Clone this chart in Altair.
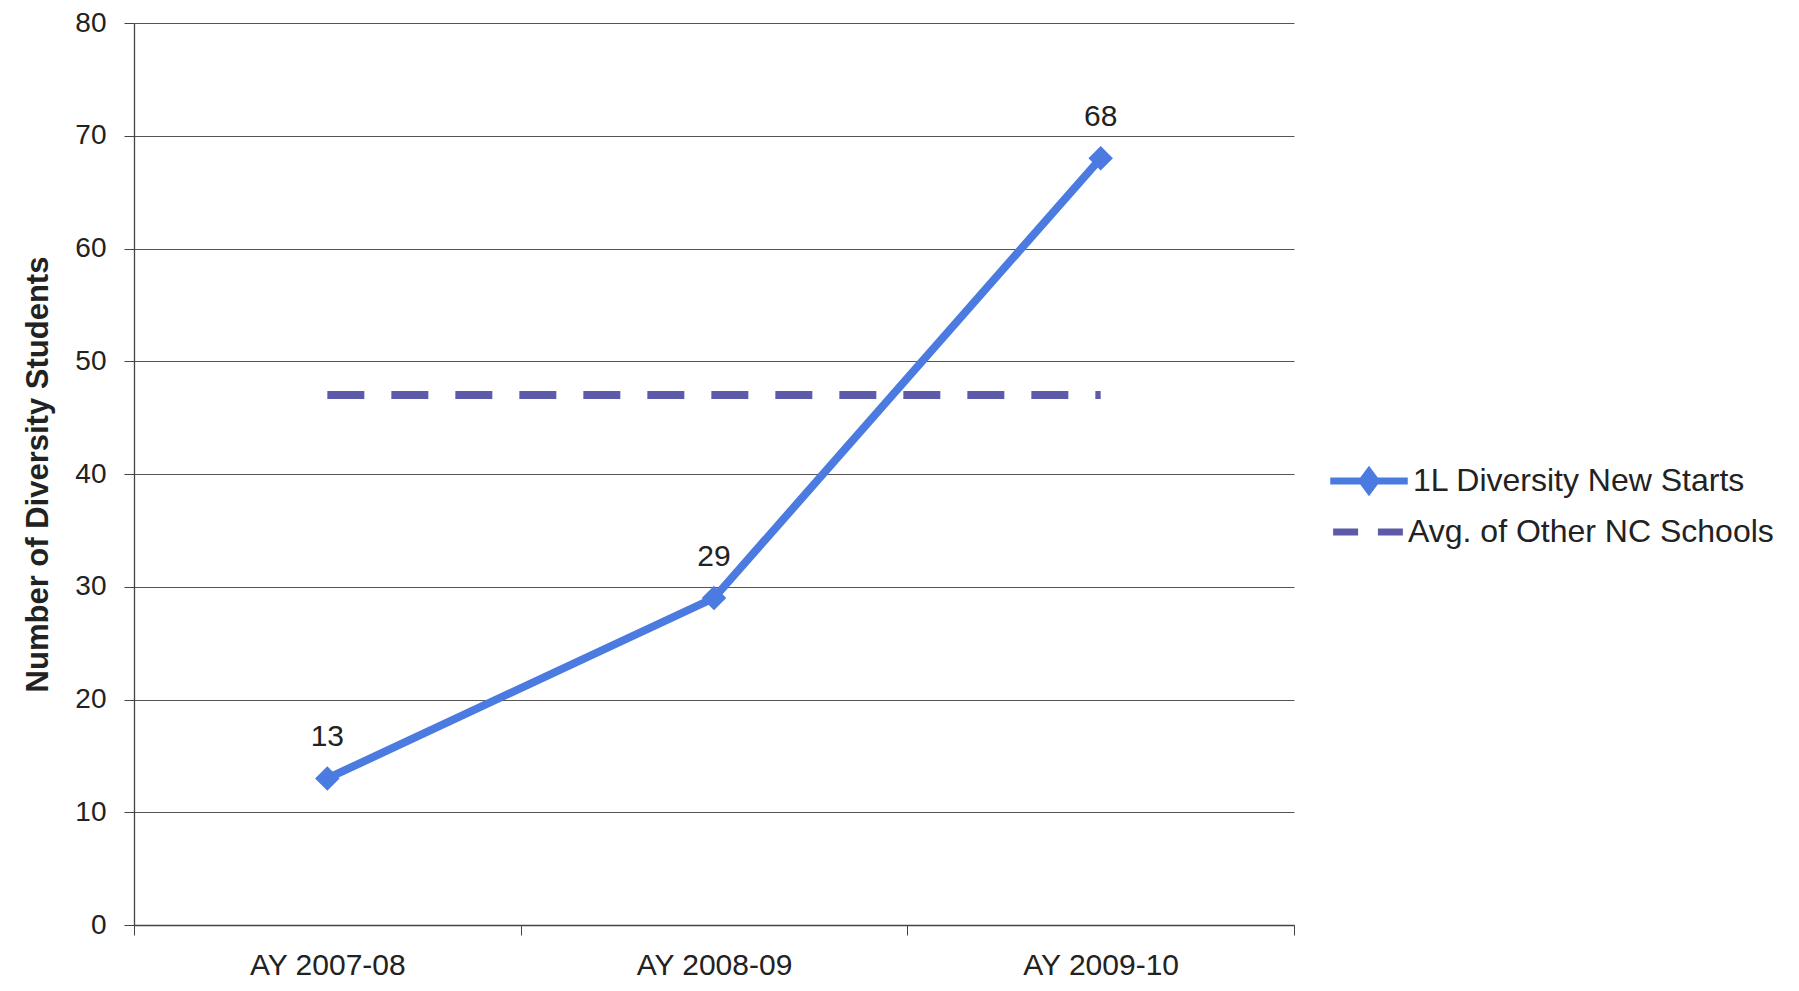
import altair as alt
import pandas as pd

# ---- data ----
categories = ["AY 2007-08", "AY 2008-09", "AY 2009-10"]
new_starts = [13, 29, 68]
avg_other = [47, 47, 47]
series_names = ["1L Diversity New Starts", "Avg. of Other NC Schools"]
y_ticks = [0, 10, 20, 30, 40, 50, 60, 70, 80]

df_new = pd.DataFrame({"category": categories, "series": series_names[0], "value": new_starts})
df_avg = pd.DataFrame({"category": categories, "series": series_names[1], "value": avg_other})

BLUE = "#4B7BE0"
PURPLE = "#5D5AAA"
FONT = "Liberation Sans"
TEXT = "#222222"

x_enc = alt.X(
    "category:N",
    sort=categories,
    scale=alt.Scale(type="band", domain=categories, paddingInner=0, paddingOuter=0),
    axis=alt.Axis(title=None, labelAngle=0, tickBand="extent", grid=False,
                  labelFontSize=30, labelPadding=15),
)
y_enc = alt.Y(
    "value:Q",
    scale=alt.Scale(domain=[0, 80], nice=False),
    axis=alt.Axis(values=y_ticks, title="Number of Diversity Students", grid=True,
                  labelFontSize=28, labelPadding=18, titleFontSize=31,
                  titleFontWeight="bold", titlePadding=20),
)

avg_line = alt.Chart(df_avg).mark_line(strokeWidth=8).encode(
    x=x_enc,
    y=y_enc,
    strokeDash=alt.StrokeDash("series:N", scale=alt.Scale(domain=[series_names[1]], range=[[37, 27]]), legend=None),
    color=alt.Color(
        "series:N",
        scale=alt.Scale(domain=[series_names[1]], range=[PURPLE]),
        legend=alt.Legend(orient="none", legendX=1215, legendY=490, title=None,
                          symbolType="M-2.25,0H-0.64M0.64,0H2.25", symbolSize=961,
                          symbolStrokeWidth=7, labelFontSize=32, labelFont=FONT,
                          labelColor=TEXT, labelOffset=21, labelLimit=0, padding=0),
    ),
)

new_line = alt.Chart(df_new).mark_line(strokeWidth=8).encode(
    x=x_enc,
    y=y_enc,
    color=alt.Color(
        "series:N",
        scale=alt.Scale(domain=[series_names[0]], range=[BLUE]),
        legend=alt.Legend(orient="none", legendX=1216, legendY=439, title=None,
                          symbolType="M-2.5,0H2.5M0,-0.6L0.45,0L0,0.6L-0.45,0Z",
                          symbolSize=961, symbolStrokeWidth=7, symbolFillColor=BLUE,
                          labelFontSize=32, labelFont=FONT, labelColor=TEXT,
                          labelOffset=25, labelLimit=0, padding=0),
    ),
)

points = alt.Chart(df_new).mark_point(shape="diamond", filled=True, size=600, color=BLUE, opacity=1).encode(
    x=x_enc, y=y_enc
)

labels = alt.Chart(df_new).mark_text(dy=-41, fontSize=30, font=FONT, color=TEXT).encode(
    x=x_enc, y=y_enc, text="value:Q"
)

chart = (
    alt.layer(avg_line, new_line, points, labels)
    .resolve_scale(color="independent")
    .properties(
        width=1160,
        height=902,
        autosize=alt.AutoSizeParams(type="none"),
        padding={"left": 126, "top": 15, "right": 489, "bottom": 56},
        background="white",
    )
    .configure_view(stroke=None)
    .configure_axis(
        labelFont=FONT,
        titleFont=FONT,
        labelColor=TEXT,
        titleColor=TEXT,
        domainColor="#444444",
        domainWidth=1.3,
        tickColor="#444444",
        tickSize=10,
        tickWidth=1,
        gridColor="#555555",
        gridWidth=1,
    )
)

chart.save("out.html", embed_options={"renderer": "svg", "actions": False})
